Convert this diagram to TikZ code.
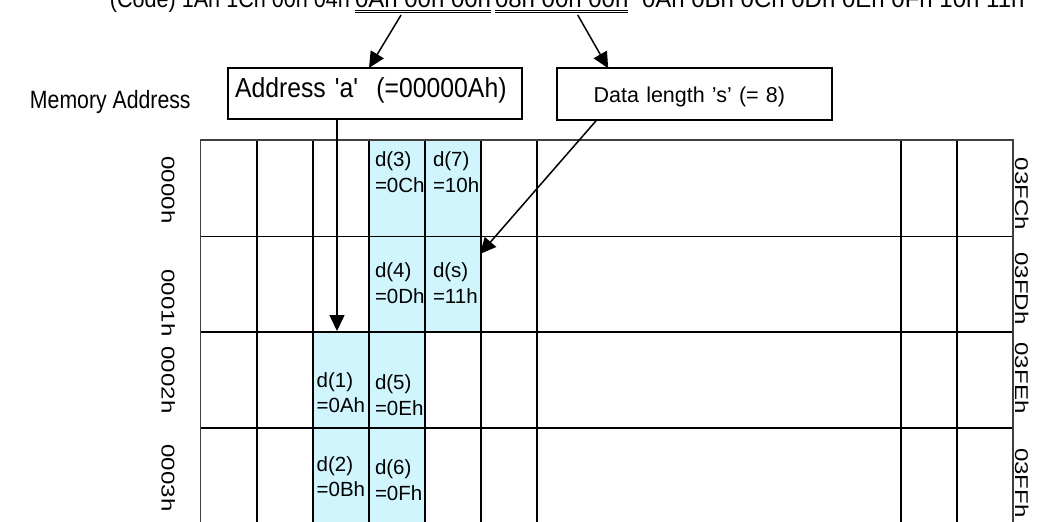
\documentclass[tikz,border=0pt]{standalone}
\usepackage{fontspec}
\setmainfont{Liberation Sans}
\newfontfamily\arc[FakeStretch=0.9]{Liberation Sans}
\newfontfamily\arm[FakeStretch=0.85]{Liberation Sans}
\newfontfamily\arw[FakeStretch=1.3]{Liberation Sans}
\usetikzlibrary{arrows.meta}
\definecolor{cellblue}{RGB}{208,245,253}
\newcommand\sq{\char"27\relax}
\begin{document}
\begin{tikzpicture}[x=1pt,y=-1pt,
  txt/.style={inner sep=0pt, outer sep=0pt},
  arr/.style={line width=1.5pt, -{Triangle[length=16pt,width=15pt]}},
  gridline/.style={line width=1.8pt, black},
  border/.style={line width=1.2pt, black!75},
  celltxt/.style={txt, anchor=north west, align=left, font=\fontsize{20.5}{26}\selectfont},
  rowlbl/.style={txt, rotate=-90, font=\arw\fontsize{18.5}{18.5}\selectfont},
  codetxt/.style={txt, anchor=base west, font=\fontsize{24}{24}\selectfont},
  ul/.style={line width=1pt}]
\useasboundingbox (0,0) rectangle (1037,522);

% top code line
\node[codetxt, anchor=base east, font=\arc\fontsize{24}{24}\selectfont] (c0) at (350,8) {(Code) 1Ah 1Ch 00h 04h};
\node[codetxt] (g1) at (355,8) {0Ah 00h 00h};
\node[codetxt] (g2) at (495,8) {08h 00h 00h};
\node[codetxt] (c3) at (642,8) {0Ah 0Bh 0Ch 0Dh 0Eh 0Fh 10h 11h};
\foreach \g in {g1,g2}{
  \draw[ul] ([yshift=-2pt]\g.base west) -- ([yshift=-2pt]\g.base east);
  \draw[ul] ([yshift=-4.5pt]\g.base west) -- ([yshift=-4.5pt]\g.base east);
}

% labels and boxes
\node[txt, anchor=base west, font=\arm\fontsize{25}{25}\selectfont] (mem) at (30,108) {Memory Address};
\node[draw, line width=1.8pt, inner ysep=0pt, inner xsep=7pt, outer sep=0pt,
      text width=280pt, align=left, text height=29pt, text depth=22pt,
      font=\arc\fontsize{27.5}{27.5}\selectfont] (addr) at (375,93.5)
      {Address \sq a\sq\ \ (=00000Ah)};
\node[draw, line width=1.8pt, inner ysep=0pt, inner xsep=37pt, outer sep=0pt,
      text width=201pt, align=left, text height=34.4pt, text depth=17.3pt,
      font=\fontsize{21.5}{21.5}\selectfont] (data) at (694.2,94.2)
      {Data length \sq s\sq\ (= 8)};

% grid cells
\fill[cellblue] (369,140) rectangle (481,332);
\fill[cellblue] (313,332) rectangle (425,530);
\foreach \x in {256.7,313,369,425,481,537,901,957}
  \draw[gridline] (\x,140) -- (\x,530);
\foreach \y in {236.5,332,428}
  \draw[gridline] (200.7,\y) -- (1013,\y);
\draw[border] (200.7,530) -- (200.7,140) -- (1013,140) -- (1013,530);

% cell texts
\node[celltxt] (d3) at (375,151.7) {d(3)\\=0Ch};
\node[celltxt] (d7) at (433,151.7) {d(7)\\=10h};
\node[celltxt] (d4) at (375,262.7) {d(4)\\=0Dh};
\node[celltxt] (ds) at (433,262.7) {d(s)\\=11h};
\node[celltxt, font=\fontsize{20.5}{25}\selectfont] (d1) at (316.7,372.7) {d(1)\\=0Ah};
\node[celltxt] (d5) at (375,374.7) {d(5)\\=0Eh};
\node[celltxt, font=\fontsize{20.5}{25}\selectfont] (d2) at (316.7,456.7) {d(2)\\=0Bh};
\node[celltxt] (d6) at (375,459.7) {d(6)\\=0Fh};

% row labels
\node[rowlbl] (l0) at (168.3,190) {0000h};
\node[rowlbl] (l1) at (168.3,303) {0001h};
\node[rowlbl] (l2) at (168.3,380) {0002h};
\node[rowlbl] (l3) at (168.3,478) {0003h};
\node[rowlbl] (r0) at (1021.7,194) {03FCh};
\node[rowlbl] (r1) at (1021.7,288.5) {03FDh};
\node[rowlbl] (r2) at (1021.7,378) {03FEh};
\node[rowlbl] (r3) at (1021.7,483) {03FFh};

% arrows
\coordinate (t1) at (337,331);
\coordinate (t2) at (480,254);
\draw[arr] ([xshift=-22pt,yshift=-7pt]g1.base) -- ([xshift=-6pt]addr.north);
\draw[arr] ([xshift=16pt,yshift=-7pt]g2.base) -- ([xshift=-86pt]data.north);
\draw[arr] (addr.south -| t1) -- (t1);
\draw[arr] ([xshift=40pt]data.south west) -- (t2);
\end{tikzpicture}
\end{document}
